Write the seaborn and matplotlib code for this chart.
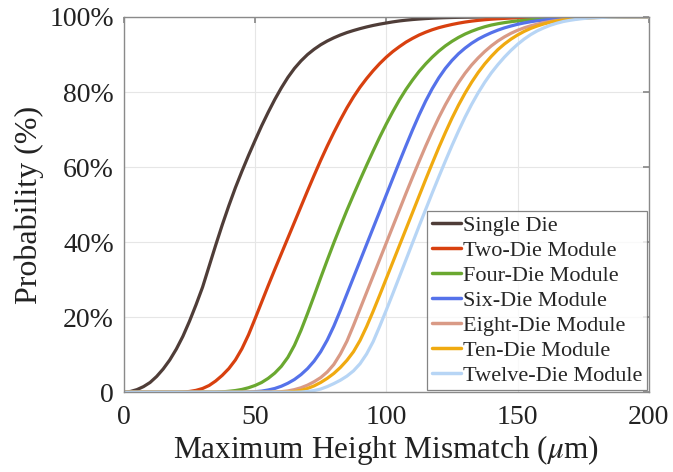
import numpy as np
import pandas as pd
import matplotlib
matplotlib.use("Agg")
import matplotlib.pyplot as plt
import seaborn as sns
from matplotlib.ticker import FixedLocator, FixedFormatter

# ---- data ----
mismatch_um = [0, 2.5, 5, 7.5, 10, 12.5, 15, 17.5, 20, 22.5, 25, 27.5, 30, 32.5, 35, 37.5,
               40, 42.5, 45, 47.5, 50, 52.5, 55, 57.5, 60, 62.5, 65, 67.5, 70, 72.5, 75, 77.5,
               80, 82.5, 85, 87.5, 90, 92.5, 95, 97.5, 100, 102.5, 105, 107.5, 110, 112.5,
               115, 117.5, 120, 122.5, 125, 127.5, 130, 132.5, 135, 137.5, 140, 142.5, 145,
               147.5, 150, 152.5, 155, 157.5, 160, 162.5, 165, 167.5, 170, 172.5, 175, 177.5,
               180, 182.5, 185, 187.5, 190, 192.5, 195, 197.5, 200]

single_die = [0, 0.2, 0.7, 1.5, 2.6, 4.2, 6.2, 8.6, 11.5, 14.9,
              18.9, 23.3, 28, 33.6, 39.2, 44.6, 49.7, 54.5, 58.9, 63.1,
              67.1, 71, 74.6, 78, 81.1, 83.9, 86.3, 88.3, 90, 91.4,
              92.6, 93.6, 94.45, 95.2, 95.85, 96.4, 96.9, 97.35, 97.75, 98.1,
              98.4, 98.7, 98.95, 99.15, 99.32, 99.46, 99.58, 99.68, 99.76, 99.82,
              99.87, 99.91, 99.94, 99.96, 99.98,
              100, 100, 100, 100, 100, 100, 100, 100, 100, 100, 100, 100, 100,
              100, 100, 100, 100, 100, 100, 100, 100, 100, 100, 100, 100, 100]
two_die = [0, 0, 0, 0, 0, 0, 0, 0, 0,
           0.05, 0.2, 0.5, 1, 1.8, 3, 4.5, 6.3, 8.6, 11.6,
           15.3, 19.6, 24, 28.4, 32.7, 36.9, 41.1, 45.3, 49.5, 53.7,
           57.8, 61.8, 65.6, 69.2, 72.6, 75.8, 78.7, 81.3, 83.6, 85.7,
           87.6, 89.3, 90.8, 92.1, 93.3, 94.3, 95.2, 95.95, 96.6, 97.15,
           97.6, 98, 98.35, 98.65, 98.9, 99.1, 99.27, 99.41, 99.53, 99.63,
           99.71, 99.78, 99.83, 99.87, 99.91, 99.94, 99.96, 99.98,
           100, 100, 100, 100, 100, 100, 100, 100, 100, 100, 100, 100, 100, 100]
four_die = [0, 0, 0, 0, 0, 0, 0, 0, 0, 0, 0, 0, 0, 0, 0,
            0.1, 0.25, 0.45, 0.75, 1.2, 1.8, 2.6, 3.7, 5.1, 6.9,
            9.3, 12.5, 16.5, 21, 25.7, 30.5, 35.2, 39.8, 44.2, 48.5,
            52.6, 56.6, 60.5, 64.3, 68, 71.5, 74.8, 77.9, 80.7, 83.2,
            85.5, 87.5, 89.3, 90.9, 92.3, 93.5, 94.55, 95.45, 96.2, 96.85,
            97.4, 97.85, 98.2, 98.5, 98.75, 98.95, 99.12, 99.27, 99.4, 99.5,
            99.6, 99.7, 99.77, 99.83, 99.88, 99.92, 99.95, 99.97, 99.98,
            100, 100, 100, 100, 100, 100, 100]
six_die = [0, 0, 0, 0, 0, 0, 0, 0, 0, 0, 0, 0, 0, 0, 0, 0, 0, 0, 0,
           0.05, 0.15, 0.3, 0.6, 1.0, 1.6, 2.4, 3.4, 4.7, 6.3,
           8.3, 10.8, 13.9, 17.6, 21.8, 26.2, 30.6, 35, 39.4, 43.8,
           48.2, 52.6, 57, 61.4, 65.7, 69.9, 73.9, 77.6, 80.9, 83.8,
           86.3, 88.4, 90.2, 91.7, 93, 94.1, 95, 95.8, 96.5, 97.1,
           97.6, 98.05, 98.42, 98.74, 99, 99.2, 99.38, 99.52, 99.64, 99.74,
           99.82, 99.88, 99.92, 99.95, 99.97, 99.98,
           100, 100, 100, 100, 100, 100]
eight_die = [0, 0, 0, 0, 0, 0, 0, 0, 0, 0, 0, 0, 0, 0, 0, 0, 0, 0, 0, 0, 0, 0, 0,
             0.05, 0.15, 0.35, 0.7, 1.2, 1.9, 2.8, 3.9, 5.4, 7.4,
             10.2, 13.6, 17.8, 22.2, 26.6, 31, 35.4, 39.8, 44.2, 48.6,
             53, 57.3, 61.5, 65.6, 69.5, 73.2, 76.6, 79.7, 82.5, 85,
             87.2, 89.1, 90.8, 92.3, 93.6, 94.7, 95.65, 96.45, 97.1, 97.65,
             98.1, 98.5, 98.82, 99.08, 99.3, 99.47, 99.6, 99.72, 99.8, 99.87,
             99.92, 99.95, 99.98,
             100, 100, 100, 100, 100]
ten_die = [0, 0, 0, 0, 0, 0, 0, 0, 0, 0, 0, 0, 0, 0, 0, 0, 0, 0, 0, 0, 0, 0, 0, 0, 0,
           0.05, 0.2, 0.5, 1, 1.7, 2.6, 3.7, 5, 6.6, 8.5,
           10.8, 13.8, 17.5, 21.6, 25.9, 30.3, 34.7, 39.1, 43.5, 47.9,
           52.3, 56.7, 61, 65.2, 69.2, 73, 76.5, 79.7, 82.6, 85.2,
           87.5, 89.5, 91.3, 92.8, 94.1, 95.2, 96.15, 96.95, 97.6, 98.15,
           98.6, 98.95, 99.22, 99.42, 99.57, 99.69, 99.78, 99.85, 99.9, 99.94,
           99.97, 99.99,
           100, 100, 100, 100]
twelve_die = [0, 0, 0, 0, 0, 0, 0, 0, 0, 0, 0, 0, 0, 0, 0, 0, 0, 0, 0, 0, 0, 0, 0, 0, 0,
              0, 0,
              0.05, 0.2, 0.45, 0.85, 1.5, 2.3, 3.2, 4.3, 5.7, 7.6,
              10.2, 13.5, 17.6, 21.9, 26.3, 30.8, 35.3, 39.8, 44.3, 48.7,
              53.1, 57.4, 61.6, 65.7, 69.6, 73.3, 76.7, 79.8, 82.6, 85.1,
              87.3, 89.3, 91.1, 92.7, 94.1, 95.3, 96.3, 97.1, 97.8, 98.35,
              98.8, 99.12, 99.38, 99.58, 99.72, 99.82, 99.89, 99.94, 99.97, 99.99,
              100, 100, 100, 100]

series_names = ["Single Die", "Two-Die Module", "Four-Die Module", "Six-Die Module",
                "Eight-Die Module", "Ten-Die Module", "Twelve-Die Module"]
series_values = [single_die, two_die, four_die, six_die, eight_die, ten_die, twelve_die]
series_colors = ["#4f3d38", "#d8400f", "#6aa830", "#5572ea", "#d99a86", "#f0aa10", "#b7d5f5"]

x_ticks = [0, 50, 100, 150, 200]
y_ticks = [0, 20, 40, 60, 80, 100]
y_tick_labels = ["0", "20%", "40%", "60%", "80%", "100%"]

# ---- build long-form table ----
frames = []
for name, vals in zip(series_names, series_values):
    frames.append(pd.DataFrame({"x": mismatch_um, "p": vals, "series": name}))
df = pd.concat(frames, ignore_index=True)

sns.set_theme(style="white")
plt.rcParams["font.family"] = ["Liberation Serif", "DejaVu Serif"]
plt.rcParams["mathtext.fontset"] = "stix"

fig = plt.figure(figsize=(6.73, 4.72), dpi=100)
ax = fig.add_axes([0.184, 0.169, 0.780, 0.795])

sns.lineplot(data=df, x="x", y="p", hue="series", hue_order=series_names,
             palette=dict(zip(series_names, series_colors)), linewidth=2.3, ax=ax,
             legend=True)

ax.set_xlim(0, 200)
ax.set_ylim(0, 100)
ax.xaxis.set_major_locator(FixedLocator(x_ticks))
ax.yaxis.set_major_locator(FixedLocator(y_ticks))
ax.yaxis.set_major_formatter(FixedFormatter(y_tick_labels))
ax.grid(True, color="#e6e6e6", linewidth=0.8)
ax.set_axisbelow(True)
for s in ax.spines.values():
    s.set_visible(True)
    s.set_color("#8a8a8a")
    s.set_linewidth(1.0)
ax.tick_params(direction="in", length=4, color="#8a8a8a", labelsize=20,
               top=True, right=True, labelcolor="#222222")
ax.tick_params(axis="x", pad=9)
ax.tick_params(axis="y", pad=7)
ax.set_xlabel(r"Maximum Height Mismatch ($\mu$m)", fontsize=22.5, color="#222222",
              labelpad=2)
ax.set_ylabel("Probability (%)", fontsize=23, color="#222222", labelpad=4)

leg = ax.legend(loc="lower right", fontsize=16, frameon=True, fancybox=False,
                handlelength=1.3, handletextpad=0.1, borderpad=0.2, labelspacing=0.2,
                borderaxespad=0.1, title=None)
leg.get_frame().set_edgecolor("#666666")
leg.get_frame().set_linewidth(0.9)
for line in leg.get_lines():
    line.set_linewidth(2.5)

fig.savefig("out.png", dpi=100)
